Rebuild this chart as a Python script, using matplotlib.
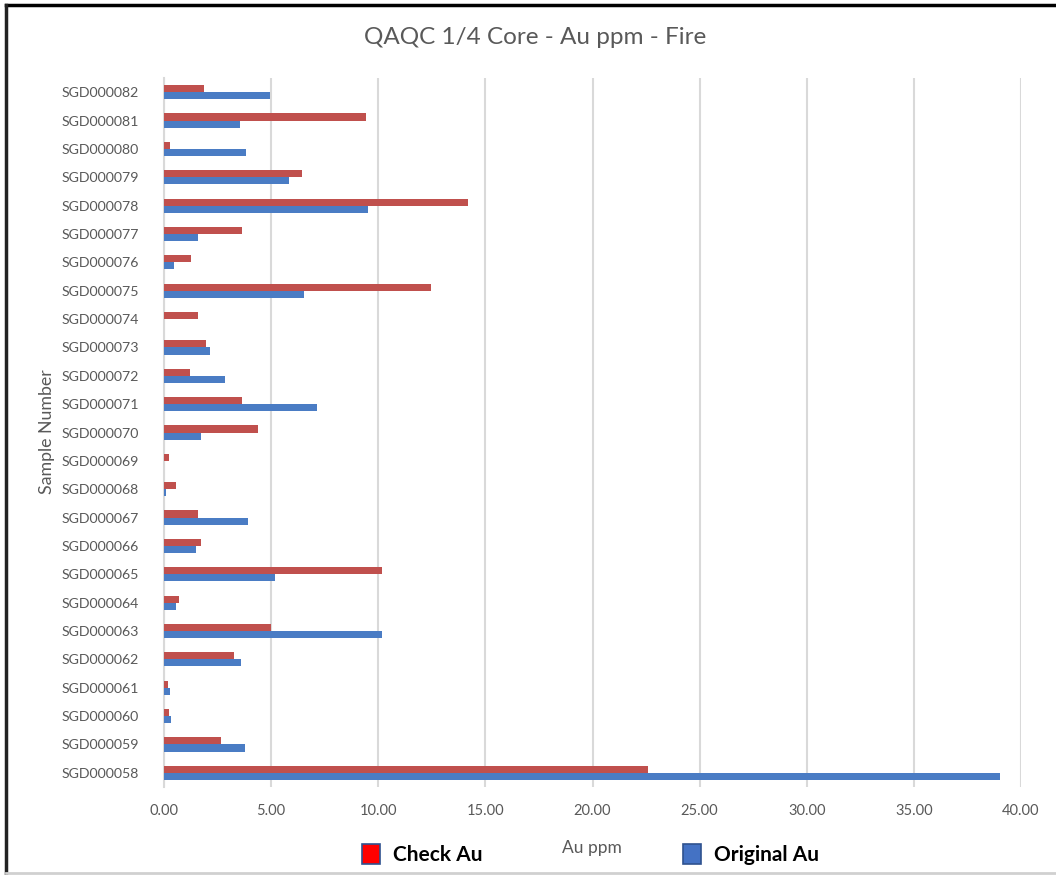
import matplotlib
matplotlib.use("Agg")
import matplotlib.pyplot as plt
from matplotlib.patches import Rectangle
from matplotlib.lines import Line2D
import numpy as np

plt.rcParams['font.family'] = ['Lato', 'DejaVu Sans']

samples = [f"SGD0000{n}" for n in range(58, 83)]
check_au = [22.60, 2.64, 0.23, 0.19, 3.25, 4.98, 0.69, 10.19, 1.74, 1.61,
            0.55, 0.23, 4.41, 3.63, 1.20, 1.96, 1.58, 12.47, 1.24, 3.63,
            14.18, 6.42, 0.28, 9.45, 1.85]
original_au = [39.00, 3.76, 0.31, 0.28, 3.58, 10.19, 0.55, 5.18, 1.49, 3.94,
               0.11, 0.00, 1.74, 7.15, 2.83, 2.17, 0.00, 6.54, 0.49, 1.61,
               9.50, 5.85, 3.83, 3.57, 4.95]
x_ticks = [0, 5, 10, 15, 20, 25, 30, 35, 40]

red = "#C0504D"
blue = "#4A7CC4"
grey_text = "#595959"

fig = plt.figure(figsize=(10.56, 8.75), dpi=100)
ax = fig.add_axes([164 / 1056, 1 - 787 / 875, (1021 - 164) / 1056, (787 - 78) / 875])

y = np.arange(len(samples))
h = 0.25
ax.barh(y + h / 2, check_au, height=h, color=red, zorder=3)
ax.barh(y - h / 2, original_au, height=h, color=blue, zorder=3)

ax.set_xlim(0, 40)
ax.set_ylim(-0.5, len(samples) - 0.5)
ax.set_xticks(x_ticks)
ax.set_xticklabels([f"{v:.2f}" for v in x_ticks], color=grey_text, fontsize=10.5)
ax.set_yticks(y)
ax.set_yticklabels(samples, color=grey_text, fontsize=10.2)
ax.tick_params(axis='both', length=0)
ax.tick_params(axis='x', pad=12)
ax.tick_params(axis='y', pad=18)

ax.grid(axis='x', color="#D9D9D9", linewidth=1.5, zorder=0)
for side in ['top', 'right', 'bottom']:
    ax.spines[side].set_visible(False)
ax.spines['left'].set_color("#D9D9D9")
ax.spines['left'].set_linewidth(1.5)

ax.set_xlabel("Au ppm", color=grey_text, fontsize=12.5)
ax.xaxis.set_label_coords((592 - 164) / (1021 - 164), -(840 - 787) / (787 - 78))
fig.text(47 / 1056, 1 - 432 / 875, "Sample Number", rotation=90, color=grey_text,
         fontsize=12.8, ha='center', va='center')

fig.text(535 / 1056, 1 - 38 / 875, "QAQC 1/4 Core - Au ppm - Fire", color=grey_text,
         fontsize=17.5, ha='center', va='center')

# legend entries drawn in figure coordinates
W, H = 1056, 875
def legend_entry(x0, fill, label):
    fig.patches.append(Rectangle((x0 / W, 1 - 864 / H), 18 / W, 20 / H,
                                 transform=fig.transFigure, facecolor=fill,
                                 edgecolor="#2F528F", linewidth=1.2))
    fig.text((x0 + 31) / W, 1 - 855 / H, label, fontsize=15, fontweight='bold',
             color='black', ha='left', va='center')

legend_entry(362, "#FF0000", "Check Au")
legend_entry(683, "#4472C4", "Original Au")

# chart frame
fig.add_artist(Line2D([6 / W, 1.0], [1 - 5 / H, 1 - 5 / H], color='black', linewidth=2.5,
                      transform=fig.transFigure))
fig.add_artist(Line2D([6 / W, 6 / W], [1 - 5 / H, 1 - 873 / H], color='#222222', linewidth=2.5,
                      transform=fig.transFigure))
fig.add_artist(Line2D([6 / W, 1.0], [1 - 873 / H, 1 - 873 / H], color='#D0D0D0', linewidth=2,
                      transform=fig.transFigure))

fig.savefig("out.png", dpi=100)
